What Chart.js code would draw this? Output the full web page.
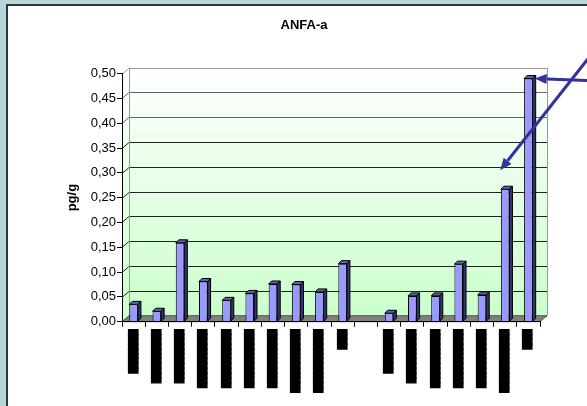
<!DOCTYPE html>
<html>
<head>
<meta charset="utf-8">
<script src="https://cdn.jsdelivr.net/npm/chart.js@4.4.1/dist/chart.umd.min.js"></script>
<style>
  body { margin: 0; background: #b6d6d8; overflow: hidden; }
  #frame { position: absolute; left: 6px; top: 4px; width: 600px; height: 420px;
           background: #fff; border-left: 2px solid #2c3838; border-top: 2px solid #2c3838; }
  #chart { position: absolute; left: 0; top: 0; }
</style>
</head>
<body>
<div id="frame"></div>
<canvas id="chart" width="587" height="406"></canvas>
<script>
// sample names are blacked out in the original, so the labels are solid blocks
const categories = [
  '█████████', '███████████', '███████████', '████████████', '████████████',
  '████████████', '████████████', '█████████████', '█████████████', '████',
  '',
  '█████████', '███████████', '████████████', '████████████', '████████████',
  '█████████████', '████'
];
const values = [0.035, 0.021, 0.159, 0.081, 0.043, 0.057, 0.076, 0.075, 0.060, 0.117,
  null, 0.017, 0.052, 0.052, 0.116, 0.054, 0.267, 0.490];
const yTicks = [0, 0.05, 0.10, 0.15, 0.20, 0.25, 0.30, 0.35, 0.40, 0.45, 0.50];

const dx = 7, dy = -6, bd = 3;

const wall3d = {
  id: 'wall3d',
  beforeDraw(chart) {
    const ctx = chart.ctx, a = chart.chartArea, y = chart.scales.y;
    const g = ctx.createLinearGradient(0, a.top + dy, 0, a.bottom + dy);
    g.addColorStop(0, '#ffffff');
    g.addColorStop(1, '#ccffcc');
    ctx.save();
    ctx.fillStyle = g;
    ctx.beginPath();
    ctx.moveTo(a.left, a.top);
    ctx.lineTo(a.left + dx, a.top + dy);
    ctx.lineTo(a.right + dx, a.top + dy);
    ctx.lineTo(a.right + dx, a.bottom + dy);
    ctx.lineTo(a.left, a.bottom);
    ctx.closePath();
    ctx.fill();

    ctx.lineWidth = 1;
    yTicks.forEach(v => {
      const py = Math.round(y.getPixelForValue(v)) + 0.5;
      ctx.strokeStyle = (v === 0.5) ? '#999' : (v >= 0.4 ? '#666' : '#222');
      ctx.beginPath();
      ctx.moveTo(a.left, py);
      ctx.lineTo(a.left + dx, py + dy);
      ctx.lineTo(a.right + dx, py + dy);
      ctx.stroke();
    });
    ctx.strokeStyle = '#999';
    ctx.beginPath();
    ctx.moveTo(a.left + dx + 0.5, a.top + dy);
    ctx.lineTo(a.left + dx + 0.5, a.bottom + dy);
    ctx.moveTo(a.right + dx + 0.5, a.top + dy);
    ctx.lineTo(a.right + dx + 0.5, a.bottom + dy);
    ctx.stroke();

    // floor
    ctx.fillStyle = '#808080';
    ctx.beginPath();
    ctx.moveTo(a.left, a.bottom);
    ctx.lineTo(a.left + dx, a.bottom + dy);
    ctx.lineTo(a.right + dx, a.bottom + dy);
    ctx.lineTo(a.right, a.bottom);
    ctx.closePath();
    ctx.fill();
    ctx.strokeStyle = '#555';
    ctx.stroke();
    ctx.restore();
  },
  afterDatasetsDraw(chart) {
    const ctx = chart.ctx;
    ctx.save();
    ctx.lineWidth = 1;
    ctx.strokeStyle = '#000';
    chart.getDatasetMeta(0).data.forEach((bar, i) => {
      if (values[i] == null) return;
      const p = bar.getProps(['x', 'y', 'base', 'width'], true);
      const l = p.x - p.width / 2, r = p.x + p.width / 2;
      ctx.fillStyle = '#6262b8';
      ctx.beginPath();
      ctx.moveTo(l, p.y);
      ctx.lineTo(l + bd, p.y - bd);
      ctx.lineTo(r + bd, p.y - bd);
      ctx.lineTo(r, p.y);
      ctx.closePath();
      ctx.fill();
      ctx.stroke();
      ctx.fillStyle = '#34346e';
      ctx.beginPath();
      ctx.moveTo(r, p.y);
      ctx.lineTo(r + bd, p.y - bd);
      ctx.lineTo(r + bd, p.base - bd);
      ctx.lineTo(r, p.base);
      ctx.closePath();
      ctx.fill();
      ctx.stroke();
    });
    ctx.restore();
  },
  afterDraw(chart) {
    const ctx = chart.ctx;
    const bars = chart.getDatasetMeta(0).data;
    const last = bars[17].getProps(['x', 'y', 'width'], true);
    const prev = bars[16].getProps(['x', 'y', 'width'], true);
    drawArrow(ctx, 600, 81, last.x + last.width / 2 + 2, last.y);
    drawArrow(ctx, 600, 43.5, prev.x - 5, prev.y - 19);
  }
};

function drawArrow(ctx, x0, y0, x1, y1) {
  const ang = Math.atan2(y1 - y0, x1 - x0);
  const len = 12, hw = 5;
  const bx = x1 - len * Math.cos(ang), by = y1 - len * Math.sin(ang);
  ctx.save();
  ctx.strokeStyle = '#333399';
  ctx.fillStyle = '#333399';
  ctx.lineWidth = 3;
  ctx.beginPath();
  ctx.moveTo(x0, y0);
  ctx.lineTo(bx, by);
  ctx.stroke();
  ctx.beginPath();
  ctx.moveTo(x1, y1);
  ctx.lineTo(bx + hw * Math.sin(ang), by - hw * Math.cos(ang));
  ctx.lineTo(bx - hw * Math.sin(ang), by + hw * Math.cos(ang));
  ctx.closePath();
  ctx.fill();
  ctx.restore();
}

new Chart(document.getElementById('chart'), {
  type: 'bar',
  data: {
    labels: categories,
    datasets: [{
      data: values,
      backgroundColor: '#9999ff',
      borderColor: '#000',
      borderWidth: 1,
      categoryPercentage: 1,
      barPercentage: 0.37
    }]
  },
  options: {
    responsive: false,
    animation: false,
    layout: { padding: { left: 68, right: 47, top: 0, bottom: 0 } },
    plugins: {
      legend: { display: false },
      tooltip: { enabled: false },
      title: {
        display: true,
        text: 'ANFA-a',
        color: '#000',
        font: { family: 'Liberation Sans', size: 13, weight: 'bold' },
        padding: { top: 18, bottom: 40 }
      }
    },
    scales: {
      x: {
        grid: { drawOnChartArea: false, tickLength: 5, color: '#000' },
        border: { color: '#000' },
        ticks: {
          autoSkip: false, minRotation: 90, maxRotation: 90, padding: 3, color: '#000',
          textStrokeColor: '#000', textStrokeWidth: 1.2,
          font: { family: 'DejaVu Sans Mono', size: 8 }
        },
        afterFit(scale) { scale.height = 84.3; }
      },
      y: {
        min: 0,
        max: 0.5,
        grid: { drawOnChartArea: false, tickLength: 5, color: '#000' },
        border: { color: '#000' },
        ticks: {
          stepSize: 0.05, padding: 1, color: '#000',
          font: { family: 'Liberation Sans', size: 13 },
          callback: v => v.toFixed(2).replace('.', ',')
        },
        title: {
          display: true, text: 'pg/g', color: '#000',
          font: { family: 'Liberation Sans', size: 13, weight: 'bold' },
          padding: { top: -3, bottom: 0 }
        },
        afterFit(scale) { scale.width = 54; }
      }
    }
  },
  plugins: [wall3d]
});
</script>
</body>
</html>
